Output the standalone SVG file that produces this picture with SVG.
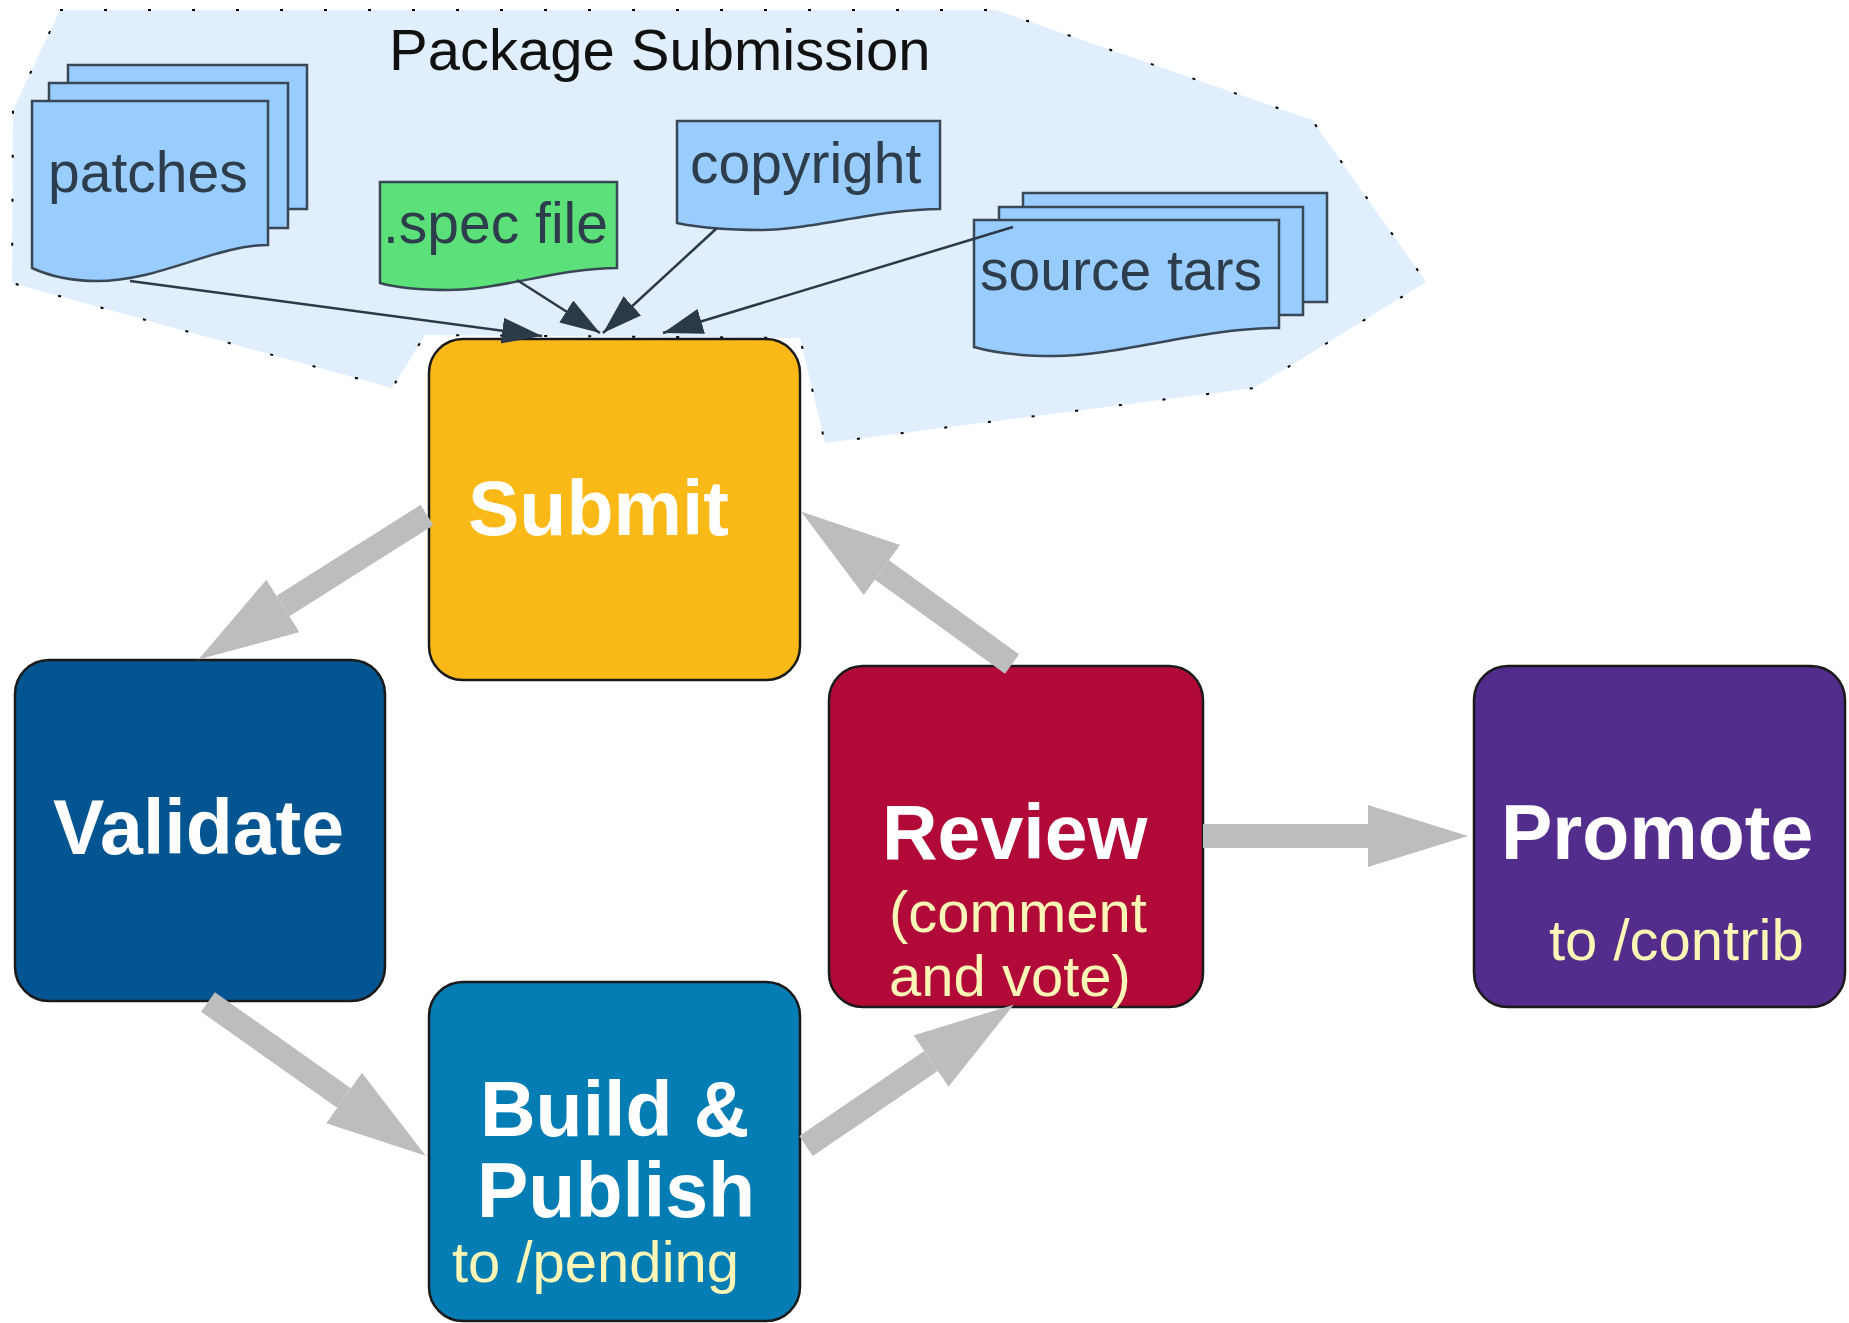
<svg xmlns="http://www.w3.org/2000/svg" width="1849" height="1323" viewBox="0 0 1849 1323">
<style>
.doc{fill:#99ccff;stroke:#3a4856;stroke-width:2.5}
.spec{fill:#5be07a;stroke:#3a4856;stroke-width:2.5}
.dtext{font-family:"Liberation Sans",Arial,sans-serif;font-size:57px;fill:#2e3d4c}
.box{stroke:#1a1a1a;stroke-width:2.5}
.title{font-family:"Liberation Sans",Arial,sans-serif;font-size:77px;font-weight:bold;fill:#ffffff}
.sub{font-family:"Liberation Sans",Arial,sans-serif;font-size:58px;fill:#fdf6b6}
.thin{stroke:#2c3a48;stroke-width:2.5;fill:none;marker-end:url(#dark)}
.flow{stroke:#bcbdbf;stroke-width:24;fill:none;marker-end:url(#gray)}
</style>
<defs>
<marker id="dark" markerUnits="userSpaceOnUse" markerWidth="42" markerHeight="28" refX="40" refY="13" orient="auto" viewBox="0 0 42 28">
<path d="M0,0 L40,13 L0,26 Z" fill="#2c3a48"/>
</marker>
<marker id="gray" markerUnits="userSpaceOnUse" markerWidth="102" markerHeight="64" refX="0" refY="31" orient="auto" viewBox="0 0 102 64">
<path d="M0,0 L100,31 L0,62 Z" fill="#bcbdbf"/>
</marker>
</defs>
<rect width="1849" height="1323" fill="#ffffff"/>
<g id="package-submission">
<path d="M60,10 L996,10 L1312,120 L1426,282 L1254,388 L825,443 L800,338 L425,335 L392,388 L12,283 L13,110 Z" fill="#e0eefd" stroke="#000" stroke-width="2" stroke-dasharray="3 41"/>
<text x="389" y="70" font-family="Liberation Sans, Arial, sans-serif" font-size="58" fill="#111111">Package Submission</text>
</g>
<g id="patches">
<rect class="doc" x="68" y="65" width="239" height="144"/>
<rect class="doc" x="49" y="83" width="239" height="145"/>
<path class="doc" d="M32,101 H268 V245 C215,245 160,281 97,281 Q60,281 32,268 Z"/>
<text class="dtext" x="48" y="192">patches</text>
</g>
<g id="spec-file">
<path class="spec" d="M380,182 H617 V268 C560,268 500,290 448,290 Q405,290 380,283 Z"/>
<text class="dtext" x="383" y="243">.spec file</text>
</g>
<g id="copyright">
<path class="doc" d="M677,121 H940 V209 C880,209 810,230 761,230 Q710,230 677,223 Z"/>
<text class="dtext" x="690" y="183">copyright</text>
</g>
<g id="source-tars">
<rect class="doc" x="1023" y="193" width="304" height="109"/>
<rect class="doc" x="999" y="207" width="304" height="108"/>
<path class="doc" d="M974,220 H1279 V328 C1200,328 1120,356 1054,356 Q1005,356 974,347 Z"/>
<text class="dtext" x="980" y="290">source tars</text>
</g>
<g id="submit">
<rect class="box" x="429" y="339" width="371" height="341" rx="34" fill="#fbb917"/>
<text class="title" x="468" y="535">Submit</text>
</g>
<g id="validate">
<rect class="box" x="15" y="660" width="370" height="341" rx="34" fill="#025590"/>
<text class="title" x="53" y="854">Validate</text>
</g>
<g id="build-publish">
<rect class="box" x="429" y="982" width="371" height="339" rx="34" fill="#037db3"/>
<text class="title" x="480" y="1136">Build &amp;</text>
<text class="title" x="477" y="1217">Publish</text>
<text class="sub" x="452" y="1282">to /pending</text>
</g>
<g id="review">
<rect class="box" x="829" y="666" width="374" height="341" rx="34" fill="#b10a38"/>
<text class="title" x="882" y="859">Review</text>
<text class="sub" x="889" y="932">(comment</text>
<text class="sub" x="889" y="996">and vote)</text>
</g>
<g id="promote">
<rect class="box" x="1474" y="666" width="371" height="341" rx="34" fill="#522d8b"/>
<text class="title" x="1501" y="859">Promote</text>
<text class="sub" x="1549" y="960">to /contrib</text>
</g>
<g id="connectors">
<line class="thin" x1="130" y1="281" x2="542" y2="336"/>
<line class="thin" x1="517" y1="280" x2="600" y2="333"/>
<line class="thin" x1="717" y1="228" x2="603" y2="333"/>
<line class="thin" x1="1013" y1="227" x2="663" y2="333"/>
<line class="flow" x1="427" y1="515" x2="283" y2="606"/>
<line class="flow" x1="208" y1="1002" x2="344" y2="1098"/>
<line class="flow" x1="806" y1="1146" x2="931" y2="1061"/>
<line class="flow" x1="1012" y1="664" x2="882" y2="570"/>
<line class="flow" x1="1203" y1="836" x2="1368" y2="836"/>
</g>
</svg>
